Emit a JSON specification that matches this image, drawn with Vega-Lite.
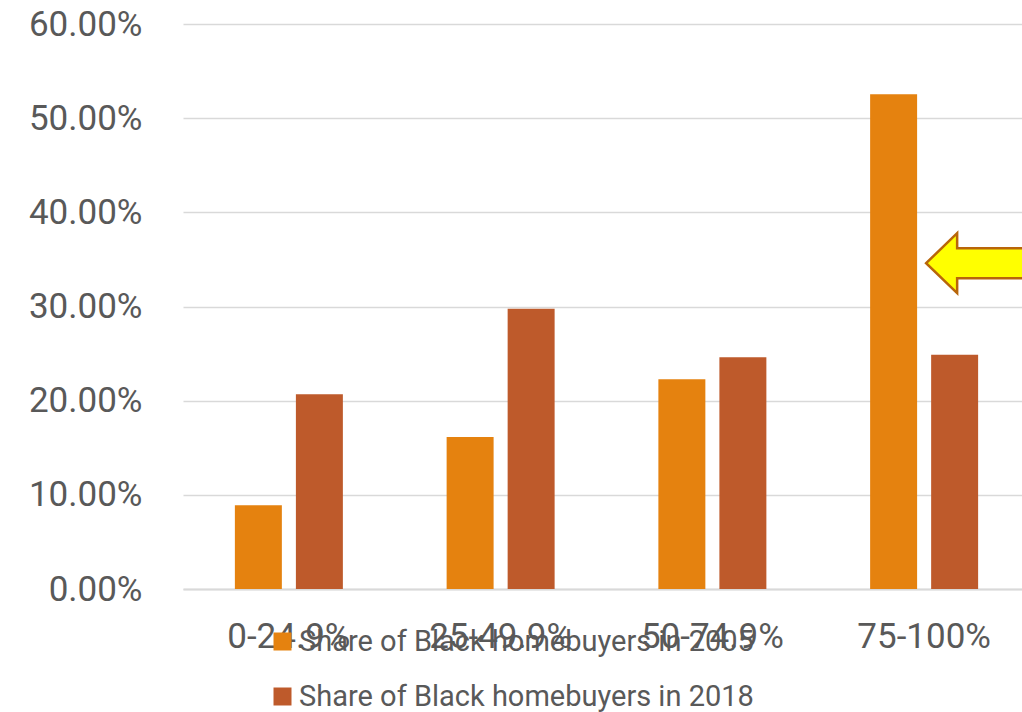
{
  "$schema": "https://vega.github.io/schema/vega-lite/v6.json",
  "width": 847,
  "height": 565,
  "autosize": {"type": "none"},
  "padding": {"left": 183, "top": 24, "right": 0, "bottom": 123},
  "background": "white",
  "config": {
    "view": {"stroke": null},
    "font": "Roboto",
    "axis": {"labelColor": "#595959", "labelFont": "Roboto"}
  },
  "datasets": {
    "bars": [
      {"share": "0-24.9%", "series": "Share of Black homebuyers in 2005", "value": 0.0889},
      {"share": "0-24.9%", "series": "Share of Black homebuyers in 2018", "value": 0.2069},
      {"share": "25-49.9%", "series": "Share of Black homebuyers in 2005", "value": 0.1615},
      {"share": "25-49.9%", "series": "Share of Black homebuyers in 2018", "value": 0.2975},
      {"share": "50-74.9%", "series": "Share of Black homebuyers in 2005", "value": 0.2228},
      {"share": "50-74.9%", "series": "Share of Black homebuyers in 2018", "value": 0.2460},
      {"share": "75-100%", "series": "Share of Black homebuyers in 2005", "value": 0.5255},
      {"share": "75-100%", "series": "Share of Black homebuyers in 2018", "value": 0.2487}
    ],
    "callout": [
      {"share": "75-100%", "value": 0.346}
    ]
  },
  "layer": [
    {
      "data": {"name": "bars"},
      "mark": {"type": "bar"},
      "encoding": {
        "x": {
          "field": "share",
          "type": "nominal",
          "sort": null,
          "scale": {"paddingInner": 0.49, "paddingOuter": 0.245},
          "axis": {
            "title": null,
            "labelAngle": 0,
            "labelFontSize": 35,
            "labelPadding": 30,
            "ticks": false,
            "domainColor": "#D9D9D9",
            "domainWidth": 2,
            "grid": false
          }
        },
        "xOffset": {
          "field": "series",
          "type": "nominal",
          "scale": {"paddingInner": 0.23, "paddingOuter": 0}
        },
        "y": {
          "field": "value",
          "type": "quantitative",
          "scale": {"domain": [0, 0.6], "nice": false},
          "axis": {
            "title": null,
            "values": [0, 0.1, 0.2, 0.3, 0.4, 0.5, 0.6],
            "format": ".2%",
            "labelFontSize": 35,
            "labelPadding": 41,
            "ticks": false,
            "domain": false,
            "gridColor": "#D9D9D9",
            "gridWidth": 1.5
          }
        },
        "color": {
          "field": "series",
          "type": "nominal",
          "scale": {
            "domain": ["Share of Black homebuyers in 2005", "Share of Black homebuyers in 2018"],
            "range": ["#E5820F", "#BE5A2B"]
          },
          "legend": {
            "title": null,
            "orient": "none",
            "legendX": 85,
            "legendY": 603,
            "direction": "vertical",
            "symbolType": "square",
            "symbolSize": 324,
            "symbolStrokeWidth": 0,
            "labelFontSize": 29,
            "labelColor": "#595959",
            "labelFont": "Roboto",
            "labelOffset": 2,
            "labelLimit": 800,
            "rowPadding": 25
          }
        }
      }
    },
    {
      "data": {"name": "callout"},
      "mark": {
        "type": "point",
        "shape": "M-1,0L-0.436,-0.545L-0.436,-0.273L1,-0.273L1,0.273L-0.436,0.273L-0.436,0.545Z",
        "size": 12100,
        "filled": true,
        "fill": "#FFFF00",
        "stroke": "#B8660A",
        "strokeWidth": 2.5,
        "opacity": 1,
        "xOffset": 57
      },
      "encoding": {
        "x": {"field": "share", "type": "nominal"},
        "y": {"field": "value", "type": "quantitative"}
      }
    }
  ]
}
